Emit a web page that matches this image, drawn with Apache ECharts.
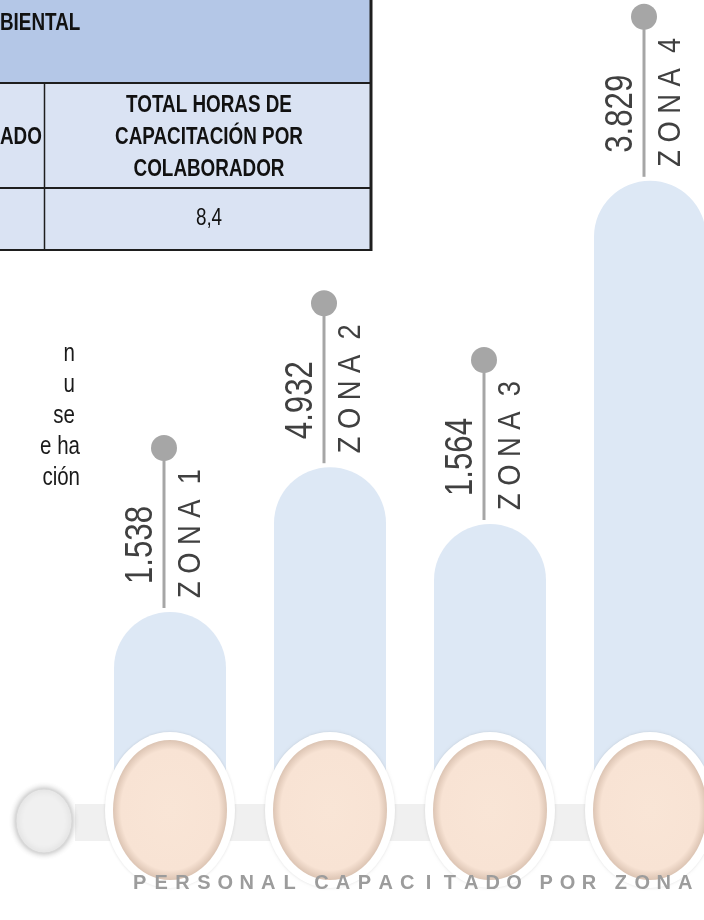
<!DOCTYPE html>
<html><head><meta charset="utf-8">
<script src="https://cdn.jsdelivr.net/npm/echarts@6/dist/echarts.min.js"></script>
<style>html,body{margin:0;padding:0;background:#fff}#c{width:704px;height:920px}</style>
</head><body><div id="c"></div>
<script>
// ---- data ----
const categories = ['ZONA 1', 'ZONA 2', 'ZONA 3', 'ZONA 4'];
const personal = [1538, 4932, 1564, 3829];
const barHeights = [23.5, 41.6, 34.5, 77.4];   // visual height of each column (% of plot)
const chartTitle = 'PERSONAL CAPACITADO POR ZONA';
const tableHeader = 'BIENTAL';
const tableColA = 'ADO';
const tableColB = ['TOTAL HORAS DE', 'CAPACITACIÓN POR', 'COLABORADOR'];
const tableValue = '8,4';
const sideText = ['n', 'u', 'se', 'e ha', 'ción'];

// ---- helpers ----
const FF = '"Liberation Sans", Arial, sans-serif';
function fmt(n) { return String(n).replace(/\B(?=(\d{3})+(?!\d))/g, '.'); }
function spaced(cat) { const p = cat.split(' '); return p[0].split('').join(' ') + '  ' + p[1]; }

const chart = echarts.init(document.getElementById('c'), null, { renderer: 'canvas' });

// table + side text (decorative page fragment)
const g = [];
g.push({ type: 'rect', z: 0, shape: { x: 0, y: 0, width: 371, height: 83 }, style: { fill: '#b4c7e7' } });
g.push({ type: 'rect', z: 0, shape: { x: 0, y: 83, width: 371, height: 167 }, style: { fill: '#dae3f3' } });
[83, 188, 250].forEach(y => g.push({ type: 'line', z: 1, shape: { x1: 0, y1: y, x2: 372, y2: y }, style: { stroke: '#1e1e1e', lineWidth: 2 } }));
g.push({ type: 'line', z: 1, shape: { x1: 371, y1: 0, x2: 371, y2: 251 }, style: { stroke: '#1e1e1e', lineWidth: 3 } });
g.push({ type: 'line', z: 1, shape: { x1: 44.5, y1: 83, x2: 44.5, y2: 250 }, style: { stroke: '#1e1e1e', lineWidth: 1.5 } });
g.push({ type: 'text', z: 2, x: 0, y: 24, scaleX: 0.82, style: { text: tableHeader, font: 'bold 23px ' + FF, fill: '#111', textAlign: 'left', textVerticalAlign: 'middle' } });
g.push({ type: 'text', z: 2, x: 0, y: 138, scaleX: 0.82, style: { text: tableColA, font: 'bold 23px ' + FF, fill: '#111', textAlign: 'left', textVerticalAlign: 'middle' } });
tableColB.forEach((t, i) => g.push({ type: 'text', z: 2, x: 209, y: 106 + i * 32, scaleX: 0.82, style: { text: t, font: 'bold 23px ' + FF, fill: '#111', textAlign: 'center', textVerticalAlign: 'middle' } }));
g.push({ type: 'text', z: 2, x: 209, y: 219, scaleX: 0.82, style: { text: tableValue, font: '23px ' + FF, fill: '#111', textAlign: 'center', textVerticalAlign: 'middle' } });
const sideRight = [75, 75, 75, 80, 80];
sideText.forEach((t, i) => g.push({ type: 'text', z: 2, x: sideRight[i], y: 354 + i * 31, scaleX: 0.82, style: { text: t, font: '25px ' + FF, fill: '#1a1a1a', textAlign: 'right', textVerticalAlign: 'middle' } }));
// bottom band + start knob
g.push({ type: 'rect', z: 0, shape: { x: 75, y: 804, width: 640, height: 37 }, style: { fill: '#f0f0f0' } });
g.push({ type: 'circle', z: 0, x: 44, y: 821, scaleY: 32 / 28, shape: { cx: 0, cy: 0, r: 28 }, style: { fill: '#f0f0f0', stroke: '#d8d8d8', lineWidth: 1, shadowBlur: 6, shadowColor: 'rgba(0,0,0,0.3)' } });

const titleRich = chartTitle.split('').map(c => c === ' ' ? '{s| }' : '{c|' + c + '}').join('');

function renderEllipse(params, api) {
  const base = api.coord([api.value(0), 0]);
  const cx = base[0], cy = base[1] + 10;
  return { type: 'group', children: [
    { type: 'circle', x: cx, y: cy, scaleY: 78 / 65, shape: { cx: 0, cy: 0, r: 65 }, style: { fill: '#ffffff', shadowBlur: 3, shadowColor: 'rgba(0,0,0,0.12)' } },
    { type: 'circle', x: cx, y: cy, scaleY: 70 / 57, shape: { cx: 0, cy: 0, r: 57 },
      style: { fill: new echarts.graphic.RadialGradient(0.5, 0.5, 0.5, [
        { offset: 0, color: '#f9e5d6' }, { offset: 0.86, color: '#f8e3d4' }, { offset: 1, color: '#dcc4b3' }]) } }
  ] };
}

function renderLolli(params, api) {
  const i = params.dataIndex;
  const top = api.coord([api.value(0), api.value(1)]);
  const lx = top[0] - 6;
  const cy = top[1] - 164;
  return { type: 'group', children: [
    { type: 'line', shape: { x1: lx, y1: cy, x2: lx, y2: top[1] - 4 }, style: { stroke: '#a6a6a6', lineWidth: 3 } },
    { type: 'circle', shape: { cx: lx, cy: cy, r: 13 }, style: { fill: '#a6a6a6' } },
    { type: 'text', x: lx - 23, y: cy + 136, rotation: Math.PI / 2, scaleX: 0.8,
      style: { text: fmt(personal[i]), font: '39px ' + FF, fill: '#404040', textAlign: 'left', textVerticalAlign: 'middle' } },
    { type: 'text', x: lx + 27, y: cy + 150, rotation: Math.PI / 2, scaleX: 0.88,
      style: { text: spaced(categories[i]), font: '31px ' + FF, fill: '#404040', textAlign: 'left', textVerticalAlign: 'middle' } }
  ] };
}

chart.setOption({
  animation: false,
  backgroundColor: '#ffffff',
  title: {
    text: titleRich, left: 124, top: 866,
    textStyle: { rich: {
      c: { width: 21.4, align: 'center', fontSize: 20, fontWeight: 'bold', color: '#9c9c9c', fontFamily: FF, lineHeight: 24 },
      s: { width: 10.6, fontSize: 20, lineHeight: 24 }
    } }
  },
  grid: { left: 170, right: 54, top: 0, bottom: 120 },
  xAxis: { type: 'category', data: categories, boundaryGap: false, show: false },
  yAxis: { type: 'value', min: 0, max: 100, show: false },
  graphic: { elements: g },
  series: [
    { type: 'bar', data: barHeights, barWidth: 112, z: 2,
      itemStyle: { color: '#dde8f5', borderRadius: [56, 56, 0, 0] } },
    { type: 'custom', z: 3, data: categories.map((c, i) => [i, 0]), renderItem: renderEllipse },
    { type: 'custom', z: 4, data: barHeights.map((h, i) => [i, h]), renderItem: renderLolli }
  ]
});
</script></body></html>
